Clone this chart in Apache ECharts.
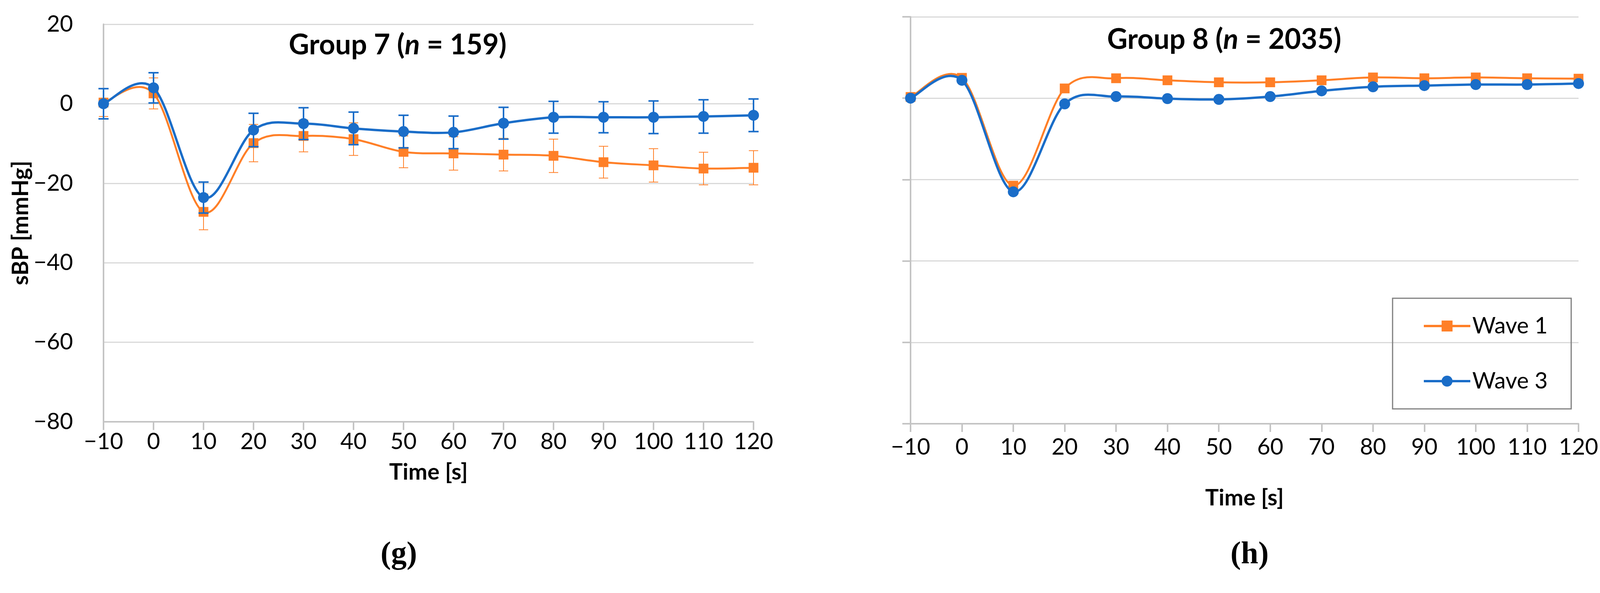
<!DOCTYPE html>
<html><head><meta charset="utf-8">
<script src="https://cdn.jsdelivr.net/npm/echarts@6/dist/echarts.min.js"></script>
<style>html,body{margin:0;padding:0;background:#fff}#c{width:4124px;height:1517px}</style>
</head><body><div id="c"></div>
<script>
// ---- data ----
const time = [-10, 0, 10, 20, 30, 40, 50, 60, 70, 80, 90, 100, 110, 120];
const xTicks = [-10, 0, 10, 20, 30, 40, 50, 60, 70, 80, 90, 100, 110, 120];
const yTicks = [-80, -60, -40, -20, 0, 20];

// Group 7 (n = 159)
const g7Wave1 = [0.3, 2.6, -27.2, -9.9, -8.1, -8.9, -12.1, -12.5, -12.8, -13.1, -14.7, -15.5, -16.3, -16.1];
const g7Wave1Err = [3.5, 3.9, 4.5, 4.7, 4.0, 4.1, 4.0, 4.2, 4.1, 4.2, 4.0, 4.2, 4.1, 4.3];
const g7Wave3 = [0.0, 4.0, -23.6, -6.6, -5.0, -6.2, -7.0, -7.2, -4.9, -3.4, -3.4, -3.4, -3.2, -2.9];
const g7Wave3Err = [3.8, 3.8, 3.9, 4.2, 4.0, 4.1, 4.1, 4.1, 4.0, 4.0, 3.9, 4.1, 4.2, 4.1];

// Group 8 (n = 2035)
const g8Wave1 = [0.3, 5.0, -21.5, 2.4, 4.9, 4.4, 3.9, 3.9, 4.4, 5.1, 4.9, 5.1, 4.9, 4.8];
const g8Wave3 = [0.0, 4.4, -23.0, -1.4, 0.4, -0.1, -0.3, 0.4, 1.8, 2.8, 3.1, 3.35, 3.35, 3.6];

const seriesNames = ['Wave 1', 'Wave 3'];
const titles = ['Group 7 (', 'n', ' = 159)', 'Group 8 (', 'n', ' = 2035)'];
const panelLabels = ['(g)', '(h)'];
const xName = 'Time [s]';
const yName = 'sBP [mmHg]';

// ---- style ----
const ORANGE = '#FF7F27';
const BLUE = '#1A6DC8';
const FONT = 'Lato';
const AXIS_GREY = '#c4c4c4';
const GRID_GREY = '#d9d9d9';

const fmt = v => String(v).replace('-', '\u2212');

function errRender(color, lw, cap) {
  return function (params, api) {
    const x = api.value(0), lo = api.value(1), hi = api.value(2);
    const a = api.coord([x, lo]), b = api.coord([x, hi]);
    const s = {stroke: color, lineWidth: lw, fill: null};
    return {type: 'group', children: [
      {type: 'line', shape: {x1: a[0], y1: a[1], x2: b[0], y2: b[1]}, style: s},
      {type: 'line', shape: {x1: a[0] - cap, y1: a[1], x2: a[0] + cap, y2: a[1]}, style: s},
      {type: 'line', shape: {x1: b[0] - cap, y1: b[1], x2: b[0] + cap, y2: b[1]}, style: s}
    ]};
  };
}
// Excel-like smoothed line: cubic Bezier segments (Catmull-Rom, tension 1/6) in pixel space
function curveRender(vals, color, lw) {
  return function (params, api) {
    const i = params.dataIndex, n = vals.length;
    if (i >= n - 1) return {type: 'group', children: []};
    const P = j => api.coord([time[Math.max(0, Math.min(n - 1, j))], vals[Math.max(0, Math.min(n - 1, j))]]);
    const p0 = P(i - 1), p1 = P(i), p2 = P(i + 1), p3 = P(i + 2);
    const t = 1 / 6;
    return {
      type: 'bezierCurve',
      shape: {
        x1: p1[0], y1: p1[1], x2: p2[0], y2: p2[1],
        cpx1: p1[0] + (p2[0] - p0[0]) * t, cpy1: p1[1] + (p2[1] - p0[1]) * t,
        cpx2: p2[0] - (p3[0] - p1[0]) * t, cpy2: p2[1] - (p3[1] - p1[1]) * t
      },
      style: {stroke: color, lineWidth: lw, fill: null, lineCap: 'round'}
    };
  };
}
function errData(m, e) { return time.map((t, i) => [t, m[i] - e[i], m[i] + e[i]]); }
function pts(m) { return time.map((t, i) => [t, m[i]]); }

function xAxisCfg(gi, nameGap, margin) {
  return {
    gridIndex: gi, type: 'value', min: xTicks[0], max: xTicks[xTicks.length - 1], interval: 10,
    position: 'bottom',
    axisLine: {show: true, onZero: false, lineStyle: {color: AXIS_GREY, width: 4}},
    axisTick: {show: true, length: 21, lineStyle: {color: AXIS_GREY, width: 4}},
    axisLabel: {margin: margin, fontSize: 58, color: '#000', fontFamily: FONT, formatter: fmt},
    splitLine: {show: false},
    name: xName, nameLocation: 'middle', nameGap: nameGap,
    nameTextStyle: {fontSize: 58, fontWeight: 'bold', fontFamily: FONT, color: '#000'}
  };
}
function yAxisCfg(gi, showLabels) {
  const c = {
    gridIndex: gi, type: 'value', min: yTicks[0], max: yTicks[yTicks.length - 1], interval: 20,
    axisLine: {show: true, onZero: false, lineStyle: {color: AXIS_GREY, width: 4}},
    axisTick: {show: !showLabels, length: 21, lineStyle: {color: AXIS_GREY, width: 4}},
    axisLabel: {show: showLabels, margin: 78, fontSize: 58, color: '#000', fontFamily: FONT, formatter: fmt},
    splitLine: {show: true, lineStyle: {color: GRID_GREY, width: 3}}
  };
  if (showLabels) {
    c.name = yName; c.nameLocation = 'middle'; c.nameGap = 145; c.nameRotate = 90;
    c.nameTextStyle = {fontSize: 58, fontWeight: 'bold', fontFamily: FONT, color: '#000'};
  }
  return c;
}
// markers (line series with invisible straight line; the visible smoothed curve is drawn by curveSeries)
function markerSeries(name, gi, data, color, symbol, size, width, z) {
  return {
    type: 'line', name: name, xAxisIndex: gi, yAxisIndex: gi, data: pts(data),
    symbol: symbol, symbolSize: size,
    lineStyle: {color: color, width: width, opacity: 0}, itemStyle: {color: color},
    emphasis: {disabled: true}, z: z
  };
}
function curveSeries(name, gi, data, color, width, z) {
  return {
    type: 'custom', name: name, xAxisIndex: gi, yAxisIndex: gi, coordinateSystem: 'cartesian2d',
    renderItem: curveRender(data, color, width), data: pts(data),
    encode: {x: 0, y: 1}, silent: true, z: z
  };
}
function errSeries(name, gi, m, e, color, lw, cap, z) {
  return {
    type: 'custom', name: name, xAxisIndex: gi, yAxisIndex: gi, coordinateSystem: 'cartesian2d',
    renderItem: errRender(color, lw, cap), data: errData(m, e),
    encode: {x: 0, y: [1, 2]}, silent: true, z: z
  };
}

const richTitle = {
  b: {fontSize: 72, fontWeight: 'bold', fontFamily: FONT, fill: '#000', color: '#000'},
  i: {fontSize: 72, fontWeight: 'bold', fontStyle: 'italic', fontFamily: FONT, fill: '#000', color: '#000'}
};

const chart = echarts.init(document.getElementById('c'), null, {renderer: 'canvas'});
chart.setOption({
  animation: false,
  backgroundColor: '#fff',
  grid: [
    {left: 265, right: 4124 - 1929, top: 62, bottom: 1517 - 1079},
    {left: 2331, right: 4124 - 4041, top: 43, bottom: 1517 - 1084}
  ],
  xAxis: [xAxisCfg(0, 100, 22), xAxisCfg(1, 161, 31)],
  yAxis: [yAxisCfg(0, true), yAxisCfg(1, false)],
  legend: {
    data: seriesNames, orient: 'vertical', left: 3565, top: 763,
    itemWidth: 119, itemHeight: 35, itemGap: 81, padding: [41, 60, 41, 77],
    borderColor: '#7f7f7f', borderWidth: 3, selectedMode: false,
    lineStyle: {opacity: 1, width: 6},
    textStyle: {fontSize: 58, fontFamily: FONT, color: '#000', lineHeight: 60}
  },
  series: [
    errSeries('err1', 0, g7Wave1, g7Wave1Err, ORANGE, 2, 12, 1),
    curveSeries('curve1', 0, g7Wave1, ORANGE, 5, 2),
    markerSeries(seriesNames[0], 0, g7Wave1, ORANGE, 'rect', 25, 5, 3),
    errSeries('err3', 0, g7Wave3, g7Wave3Err, BLUE, 4, 13, 4),
    curveSeries('curve3', 0, g7Wave3, BLUE, 6, 5),
    markerSeries(seriesNames[1], 0, g7Wave3, BLUE, 'circle', 28, 6, 6),
    curveSeries('curve1b', 1, g8Wave1, ORANGE, 5, 2),
    markerSeries(seriesNames[0], 1, g8Wave1, ORANGE, 'rect', 25, 5, 3),
    curveSeries('curve3b', 1, g8Wave3, BLUE, 6, 5),
    markerSeries(seriesNames[1], 1, g8Wave3, BLUE, 'circle', 28, 6, 6)
  ],
  graphic: [
    {type: 'text', x: 1018, y: 116, style: {text: '{b|' + titles[0] + '}{i|' + titles[1] + '}{b|' + titles[2] + '}', rich: richTitle, align: 'center', verticalAlign: 'middle'}},
    {type: 'text', x: 3134, y: 102, style: {text: '{b|' + titles[3] + '}{i|' + titles[4] + '}{b|' + titles[5] + '}', rich: richTitle, align: 'center', verticalAlign: 'middle'}},
    {type: 'text', x: 1021, y: 1420, style: {text: panelLabels[0], font: 'bold 80px "Liberation Serif"', fill: '#000', align: 'center', verticalAlign: 'middle'}},
    {type: 'text', x: 3199, y: 1420, style: {text: panelLabels[1], font: 'bold 80px "Liberation Serif"', fill: '#000', align: 'center', verticalAlign: 'middle'}}
  ]
});
</script></body></html>
